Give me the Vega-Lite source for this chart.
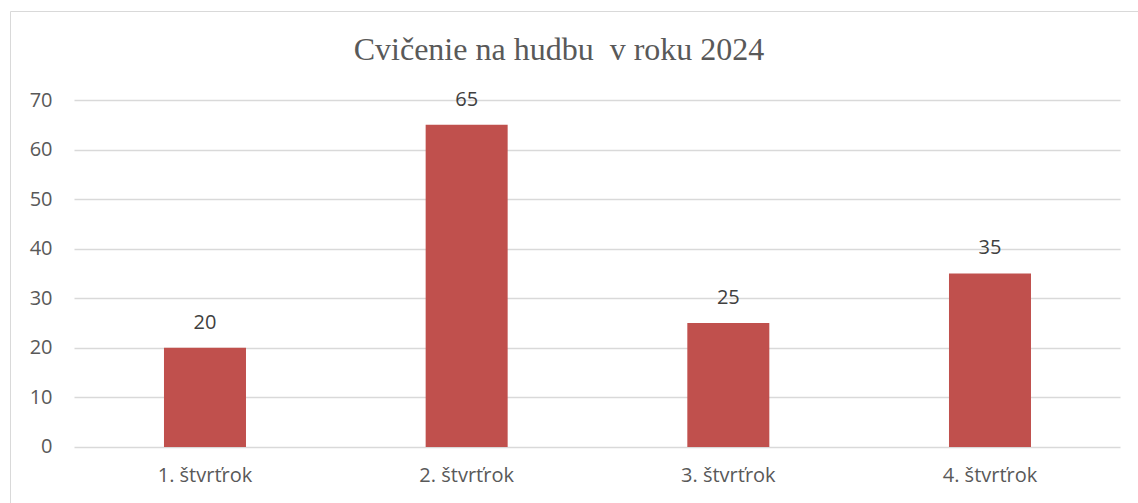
{
  "$schema": "https://vega.github.io/schema/vega-lite/v6.json",
  "autosize": {"type": "none"},
  "padding": {"left": 10, "top": 11, "right": 0, "bottom": 0},
  "width": 1128,
  "height": 492,
  "background": "white",
  "config": {
    "view": {"stroke": "#d9d9d9", "strokeWidth": 1}
  },
  "title": {
    "text": "Cvičenie na hudbu\u00a0 v roku 2024",
    "orient": "top",
    "anchor": "middle",
    "frame": "group",
    "baseline": "alphabetic",
    "offset": -81,
    "dx": -15,
    "font": "Liberation Serif",
    "fontSize": 32,
    "fontWeight": "normal",
    "color": "#595959"
  },
  "data": {
    "values": [
      {"stvrtrok": "1. štvrťrok", "hodnota": 20},
      {"stvrtrok": "2. štvrťrok", "hodnota": 65},
      {"stvrtrok": "3. štvrťrok", "hodnota": 25},
      {"stvrtrok": "4. štvrťrok", "hodnota": 35}
    ]
  },
  "encoding": {
    "x": {
      "field": "stvrtrok",
      "type": "nominal",
      "sort": null,
      "scale": {"paddingInner": 0.6866, "paddingOuter": 0.4987, "align": 0.59},
      "axis": {
        "title": null,
        "orient": "bottom",
        "offset": -56,
        "domain": false,
        "ticks": false,
        "grid": false,
        "labelAngle": 0,
        "labelPadding": 18,
        "labelFont": "Open Sans",
        "labelFontSize": 20,
        "labelColor": "#595959"
      }
    },
    "y": {
      "field": "hodnota",
      "type": "quantitative",
      "scale": {"domain": [-11.297, 87.954], "nice": false, "zero": false},
      "axis": {
        "title": null,
        "orient": "left",
        "offset": -64,
        "values": [0, 10, 20, 30, 40, 50, 60, 70],
        "domain": false,
        "grid": false,
        "ticks": true,
        "tickSize": -1046,
        "tickColor": "#d9d9d9",
        "tickWidth": 1.3,
        "labelPadding": 1068,
        "labelFont": "Open Sans",
        "labelFontSize": 20,
        "labelColor": "#595959"
      }
    }
  },
  "layer": [
    {
      "mark": {"type": "bar", "color": "#C0504D"},
      "encoding": {"y2": {"datum": 0}}
    },
    {
      "mark": {
        "type": "text",
        "baseline": "alphabetic",
        "dy": -19,
        "font": "Open Sans",
        "fontSize": 20,
        "color": "#404040"
      },
      "encoding": {"text": {"field": "hodnota", "type": "quantitative"}}
    }
  ]
}
